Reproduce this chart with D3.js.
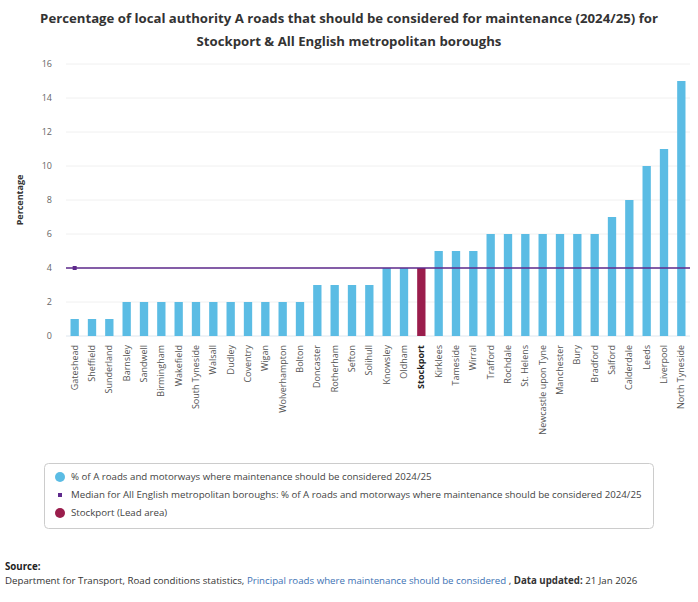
<!DOCTYPE html>
<html>
<head>
<meta charset="utf-8">
<script src="https://cdn.jsdelivr.net/npm/d3@7"></script>
<style>
  body { margin: 0; background: #fff; font-family: "Open Sans", sans-serif; }
  svg text { font-family: "Open Sans", sans-serif; }
</style>
</head>
<body>
<script>
// Data
const areas = ["Gateshead", "Sheffield", "Sunderland", "Barnsley", "Sandwell", "Birmingham",
  "Wakefield", "South Tyneside", "Walsall", "Dudley", "Coventry", "Wigan", "Wolverhampton",
  "Bolton", "Doncaster", "Rotherham", "Sefton", "Solihull", "Knowsley", "Oldham", "Stockport",
  "Kirklees", "Tameside", "Wirral", "Trafford", "Rochdale", "St. Helens", "Newcastle upon Tyne",
  "Manchester", "Bury", "Bradford", "Salford", "Calderdale", "Leeds", "Liverpool", "North Tyneside"];
const values = [1, 1, 1, 2, 2, 2, 2, 2, 2, 2, 2, 2, 2, 2, 3, 3, 3, 3, 4, 4, 4,
  5, 5, 5, 6, 6, 6, 6, 6, 6, 6, 7, 8, 10, 11, 15];
const median = 4;
const leadArea = "Stockport";
const yTicks = [0, 2, 4, 6, 8, 10, 12, 14, 16];
const legendLabels = [
  "% of A roads and motorways where maintenance should be considered 2024/25",
  "Median for All English metropolitan boroughs: % of A roads and motorways where maintenance should be considered 2024/25",
  "Stockport (Lead area)"
];

const W = 698, H = 602;
const margin = { top: 64, right: 8, bottom: 266, left: 66 };
const width = W - margin.left - margin.right;
const height = H - margin.top - margin.bottom;

const blue = "#5bbce4", lead = "#9a1d4c", purple = "#5e2a8c";

const svg = d3.select("body").append("svg")
    .attr("width", W)
    .attr("height", H);

// Title
const title = svg.append("text")
    .attr("text-anchor", "middle")
    .attr("font-size", 13.2)
    .attr("font-weight", "bold")
    .attr("fill", "#333");
title.append("tspan").attr("x", W / 2).attr("y", 23)
    .text("Percentage of local authority A roads that should be considered for maintenance (2024/25) for");
title.append("tspan").attr("x", W / 2).attr("y", 46)
    .text("Stockport & All English metropolitan boroughs");

const g = svg.append("g")
    .attr("transform", `translate(${margin.left},${margin.top})`);

const x = d3.scaleBand()
    .domain(areas)
    .range([0, width])
    .paddingInner(0.52)
    .paddingOuter(0.26);

const y = d3.scaleLinear()
    .domain([0, 16])
    .range([height, 0]);

// Gridlines
g.append("g")
    .selectAll("line")
    .data(yTicks)
    .join("line")
    .attr("x1", 0)
    .attr("x2", width)
    .attr("y1", d => y(d))
    .attr("y2", d => y(d))
    .attr("stroke", d => d === 0 ? "#dde6ee" : "#f0f0f0")
    .attr("stroke-width", 1);

// Y axis
const yAxis = g.append("g")
    .call(d3.axisLeft(y).tickValues(yTicks).tickSize(0).tickPadding(14));
yAxis.select(".domain").remove();
yAxis.selectAll("text")
    .attr("font-size", 9)
    .attr("fill", "#666");

g.append("text")
    .attr("transform", `translate(-43,${height / 2}) rotate(-90)`)
    .attr("text-anchor", "middle")
    .attr("font-size", 9)
    .attr("font-weight", "bold")
    .attr("fill", "#333")
    .text("Percentage");

// Bars
g.append("g")
    .selectAll("rect")
    .data(areas)
    .join("rect")
    .attr("x", d => x(d))
    .attr("y", (d, i) => y(values[i]))
    .attr("width", x.bandwidth())
    .attr("height", (d, i) => y(0) - y(values[i]))
    .attr("fill", d => d === leadArea ? lead : blue);

// Median line
g.append("line")
    .attr("x1", 0)
    .attr("x2", width)
    .attr("y1", y(median))
    .attr("y2", y(median))
    .attr("stroke", purple)
    .attr("stroke-width", 1.5);
g.append("rect")
    .attr("x", x(areas[0]) + x.bandwidth() / 2 - 2)
    .attr("y", y(median) - 2)
    .attr("width", 4)
    .attr("height", 4)
    .attr("fill", purple);

// X axis labels
const xAxis = g.append("g")
    .attr("transform", `translate(0,${height})`)
    .call(d3.axisBottom(x).tickSize(0).tickPadding(0));
xAxis.select(".domain").remove();
xAxis.selectAll("text")
    .attr("transform", "rotate(-90)")
    .attr("text-anchor", "end")
    .attr("x", -9)
    .attr("y", 0)
    .attr("dy", "0.35em")
    .attr("font-size", 9)
    .attr("fill", d => d === leadArea ? "#222" : "#555")
    .attr("font-weight", d => d === leadArea ? "bold" : "normal");

// Legend
const legend = svg.append("g");
legend.append("rect")
    .attr("x", 44.5)
    .attr("y", 463.5)
    .attr("width", 609)
    .attr("height", 65)
    .attr("rx", 4)
    .attr("fill", "#fff")
    .attr("stroke", "#ccc");

const rows = legend.selectAll("g.item")
    .data(legendLabels)
    .join("g")
    .attr("class", "item")
    .attr("transform", (d, i) => `translate(60,${477 + i * 18})`);
rows.each(function(d, i) {
  const r = d3.select(this);
  if (i === 1) {
    r.append("rect").attr("x", -2).attr("y", -2).attr("width", 4).attr("height", 4).attr("fill", purple);
  } else {
    r.append("circle").attr("r", 5).attr("fill", i === 0 ? blue : lead);
  }
  r.append("text")
    .attr("x", 11)
    .attr("dy", "0.35em")
    .attr("font-size", 9.7)
    .attr("fill", "#444")
    .text(d);
});

// Source
svg.append("text")
    .attr("x", 5)
    .attr("y", 570)
    .attr("font-size", 9.7)
    .attr("font-weight", "bold")
    .attr("fill", "#222")
    .text("Source:");
const src = svg.append("text")
    .attr("x", 5)
    .attr("y", 584)
    .attr("font-size", 9.7)
    .attr("fill", "#333");
src.append("tspan").text("Department for Transport, Road conditions statistics, ");
src.append("tspan").attr("fill", "#3d72b4").text("Principal roads where maintenance should be considered");
src.append("tspan").text(" , ");
src.append("tspan").attr("font-weight", "bold").text("Data updated:");
src.append("tspan").text(" 21 Jan 2026");
</script>
</body>
</html>
